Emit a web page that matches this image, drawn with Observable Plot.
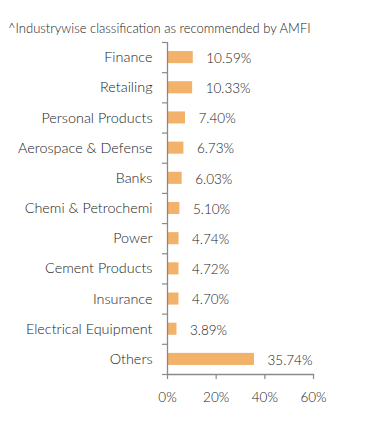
<!DOCTYPE html>
<html>
<head>
<meta charset="utf-8">
<script src="https://cdn.jsdelivr.net/npm/d3@7"></script>
<script src="https://cdn.jsdelivr.net/npm/@observablehq/plot@0.6"></script>
<style>
  html, body { margin: 0; padding: 0; background: #fff; }
  body { width: 391px; height: 427px; position: relative; overflow: hidden; font-family: Lato, "Noto Sans", sans-serif; }
  #title { position: absolute; left: 8px; top: 21px; font-size: 13px; line-height: 14px; color: #222; white-space: nowrap; font-weight: 300; }
  #chart { position: absolute; left: 0; top: 40px; }
</style>
</head>
<body>
<div id="title">^Industrywise classification as recommended by AMFI</div>
<div id="chart"></div>
<script>
const categories = ["Finance", "Retailing", "Personal Products", "Aerospace & Defense", "Banks", "Chemi & Petrochemi", "Power", "Cement Products", "Insurance", "Electrical Equipment", "Others"];
const values = [10.59, 10.33, 7.40, 6.73, 6.03, 5.10, 4.74, 4.72, 4.70, 3.89, 35.74];
const xTicks = [0, 20, 40, 60];

const data = categories.map((c, i) => ({category: c, value: values[i]}));

const W = 391, H = 387, mt = 2, mb = 53, ml = 167, mr = 78;
const step = (H - mt - mb) / categories.length;
const axisColor = "#8a8a8a";
const textColor = "#222";

const chart = Plot.plot({
  width: W,
  height: H,
  marginTop: mt,
  marginBottom: mb,
  marginLeft: ml,
  marginRight: mr,
  style: {fontFamily: "Lato, 'Noto Sans', sans-serif", fontSize: "13px", fontWeight: 300, color: textColor, background: "transparent"},
  x: {domain: [0, 60], label: null},
  y: {domain: categories, paddingInner: 0.6, paddingOuter: 0.3, round: false, label: null},
  marks: [
    Plot.barX(data, {x: "value", y: "category", fill: "#f2b26a"}),
    Plot.text(data, {x: "value", y: "category", text: d => d.value.toFixed(2) + "%", textAnchor: "start", dx: 13, dy: 1, fill: textColor, fontSize: 13.5, fontWeight: 300}),
    Plot.axisY({tickSize: 0, tickPadding: 15, fill: textColor, fontSize: 14.4, fontWeight: 300, label: null}),
    Plot.axisY({tickSize: 5, tickFormat: () => "", dy: -step / 2, stroke: axisColor, strokeWidth: 1.2, strokeOpacity: 1, label: null}),
    Plot.axisY([categories[categories.length - 1]], {tickSize: 5, tickFormat: () => "", dy: step / 2, stroke: axisColor, strokeWidth: 1.2, strokeOpacity: 1, label: null}),
    Plot.ruleX([0], {stroke: axisColor, strokeWidth: 1.3}),
    Plot.frame({anchor: "bottom", stroke: axisColor, strokeWidth: 1.3}),
    Plot.axisX({ticks: xTicks, tickSize: 5, tickPadding: 13, tickFormat: d => d + "%", stroke: axisColor, strokeWidth: 1.2, strokeOpacity: 1, fill: textColor, fontSize: 13.5, fontWeight: 300, label: null})
  ]
});
document.getElementById("chart").appendChild(chart);
</script>
</body>
</html>
